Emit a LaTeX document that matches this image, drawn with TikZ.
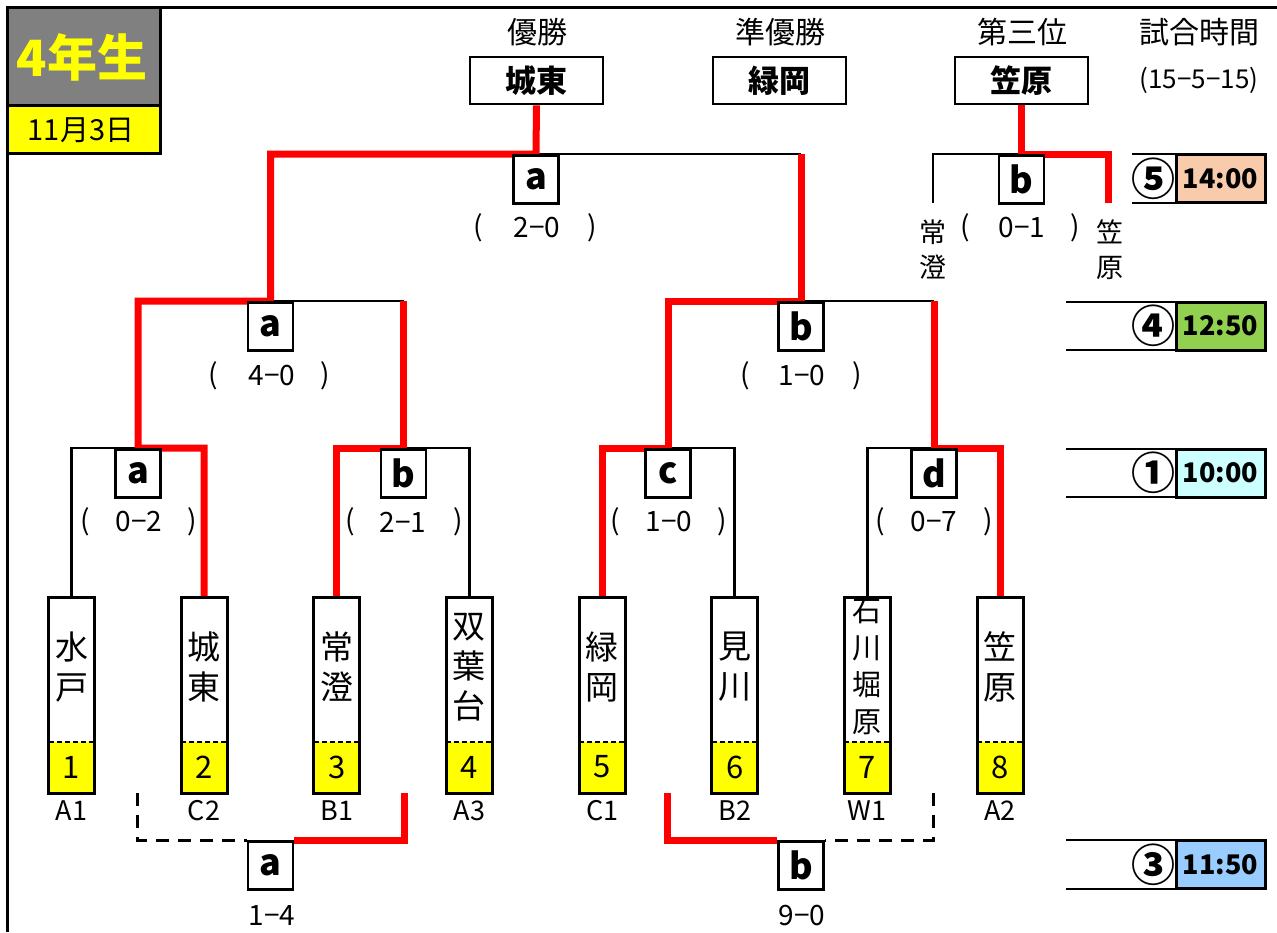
\documentclass[tikz,border=0pt]{standalone}
\usepackage{fontspec}
\setmainfont{Noto Sans CJK JP}
\newcommand\myfs[2]{\fontsize{#1}{#2}\selectfont}
\definecolor{hdrgray}{HTML}{808080}
\definecolor{tyellow}{HTML}{FFFF00}
\definecolor{winred}{HTML}{FF0000}
\definecolor{peach}{HTML}{F8CBAD}
\definecolor{tgreen}{HTML}{92D050}
\definecolor{tcyan}{HTML}{CCFFFF}
\definecolor{tblue}{HTML}{99CCFF}
\tikzset{
  blk/.style={line width=2.8pt, black},
  win/.style={line width=7pt, winred},
  dsh/.style={line width=3pt, black, dash pattern=on 13pt off 9pt},
  thinln/.style={line width=1.6pt, black},
  mbox/.style={draw, line width=2.6pt, minimum width=45pt, minimum height=48pt, inner sep=0pt, anchor=north, fill=white, font=\bfseries\myfs{36}{36}},
  tbox/.style={draw, line width=3pt, minimum width=46pt, minimum height=196pt, inner sep=0pt, anchor=north},
  rbox/.style={draw, line width=2.6pt, minimum width=133pt, minimum height=47pt, inner sep=0pt, fill=white, font=\bfseries\myfs{31}{31}},
  tmbox/.style={draw, line width=3pt, minimum width=89pt, minimum height=48pt, inner sep=0pt, font=\bfseries\myfs{27}{27}},
  tname/.style={align=center, inner sep=0pt, font=\myfs{33}{40}},
  numtxt/.style={inner sep=0pt, font=\myfs{31}{31}},
  lbltxt/.style={inner sep=0pt, font=\myfs{27}{27}},
  hdr/.style={inner sep=0pt, font=\myfs{30}{30}},
  sc/.style={inner sep=0pt, font=\myfs{28}{28}},
  circ/.style={inner sep=0pt, font=\bfseries\myfs{44}{44}},
}
\begin{document}
\begin{tikzpicture}[x=1pt, y=-1pt]
\useasboundingbox (0,0) rectangle (1277,932);
% frame
\draw[line width=3pt] (7,932) -- (7,7) -- (1277,7);
% title
\filldraw[fill=hdrgray, line width=3pt] (7,7) rectangle (160,105);
\filldraw[fill=tyellow, line width=3pt] (7,105) rectangle (160,153);
\node[inner sep=0pt, text=tyellow, font=\bfseries\myfs{50}{50}] (title) at (82,57) {4年生};
\node[inner sep=0pt, font=\myfs{29}{29}] (date) at (81,130) {11月3日};
% headers
\node[hdr] (h1) at (537,32) {優勝};
\node[hdr] (h2) at (780,32) {準優勝};
\node[hdr] (h3) at (1022,32) {第三位};
\node[hdr] (h4) at (1199,32) {試合時間};
\node[inner sep=0pt, font=\myfs{26}{26}] (h5) at (1199,80) {(15−5−15)};
% result boxes
\node[rbox] (champ) at (536.5,80.5) {城東};
\node[rbox] (runner) at (779.5,80.5) {緑岡};
\node[rbox] (third) at (1021.5,80.5) {笠原};
% team boxes
\foreach \i/\x/\lb in {1/71.5/A1,2/204.1/C2,3/336.8/B1,4/469.4/A3,5/602.1/C1,6/734.7/B2,7/867.3/W1,8/1000/A2}{
  \fill[tyellow] (\x-23,742) rectangle (\x+23,792);
  \draw[line width=2.2pt, dash pattern=on 5pt off 3pt] (\x-23,742) -- (\x+23,742);
  \node[tbox] (t\i) at (\x,596) {};
  \node[numtxt] (num\i) at (\x,767) {\i};
  \node[lbltxt] (lab\i) at (\x,811) {\lb};
}
\node[tname] (n1) at (71.5,667) {水\\戸};
\node[tname] (n2) at (204.1,667) {城\\東};
\node[tname] (n3) at (336.8,667) {常\\澄};
\node[tname] (n4) at (469.4,667) {双\\葉\\台};
\node[tname] (n5) at (602.1,667) {緑\\岡};
\node[tname] (n6) at (734.7,667) {見\\川};
\node[tname, font=\myfs{29}{37}] (n7) at (867.3,667) {石\\川\\堀\\原};
\node[tname] (n8) at (1000,667) {笠\\原};
% match boxes (positions)
\node[mbox] (m1) at (138,448) {a};
\node[mbox] (m2) at (403.5,448) {b};
\node[mbox] (m3) at (668,448) {c};
\node[mbox] (m4) at (934,448) {d};
\node[mbox] (s1) at (270.5,301) {a};
\node[mbox] (s2) at (801,301) {b};
\node[mbox] (f) at (536,154) {a};
\node[mbox] (p) at (1021.5,154) {b};
\node[mbox] (ca) at (270.5,840) {a};
\node[mbox] (cb) at (801,840) {b};
% free ends
\coordinate (p3l) at (933,203);
\coordinate (p3r) at (1108,203);
\coordinate (cl1) at (137,793);
\coordinate (cl2) at (404,793);
\coordinate (cr1) at (667,793);
\coordinate (cr2) at (933,793);
% black lines
\draw[blk] (t1.north) |- (m1.north);
\draw[blk] (m2.north) -| (t4.north);
\draw[blk] (m3.north) -| (t6.north);
\draw[blk] (t7.north) |- (m4.north);
\draw[blk] (s1.north) -- (s1.north -| m2.north);
\draw[blk] (s2.north) -- (s2.north -| m4.north);
\draw[blk] (f.north) -- (f.north -| s2.north);
\draw[blk] (p3l) |- (p.north);
\draw[dsh] (cl1) |- (ca.north west);
\draw[dsh] (cr2) |- (cb.north east);
% red lines
\draw[win] (t2.north) -- (t2.north |- m1.north) -- (m1.north) -- (m1.north |- s1.north) -- (s1.north) -- (s1.north |- f.north) -- (f.north) -- (champ.south);
\draw[win] (t3.north) -- (t3.north |- m2.north) -- (m2.north) -- (m2.north |- s1.north);
\draw[win] (t5.north) -- (t5.north |- m3.north) -- (m3.north) -- (m3.north |- s2.north) -- (s2.north) -- (s2.north |- f.north);
\draw[win] (t8.north) -- (t8.north |- m4.north) -- (m4.north) -- (m4.north |- s2.north);
\draw[win] (third.south) -- (p.north) -| (p3r);
\draw[win] (ca.north east) -| (cl2);
\draw[win] (cr1) |- (cb.north west);
% redraw match boxes on top
\foreach \nm/\lt in {m1/a,m2/b,m3/c,m4/d,s1/a,s2/b,f/a,p/b,ca/a,cb/b}{
  \node[mbox] at (\nm.north) {\lt};
}
% scores
\foreach \y/\xa/\xb/\xc/\s in {228/478/537/592/2−0, 376/213/272/325/4−0, 376/745/802/857/1−0, 522/85/139/192/0−2, 522/350/403/458/2−1, 522/615/669/722/1−0, 522/880/934/988/0−7, 228/965/1022/1075/0−1}{
  \node[sc] at (\xa,\y) {(};
  \node[sc] at (\xb,\y) {\s};
  \node[sc] at (\xc,\y) {)};
}
\node[sc] (cs1) at (272,916) {1−4};
\node[sc] (cs2) at (802,916) {9−0};
% third place labels
\node[tname, font=\myfs{27}{35}] (l3a) at (933,250) {常\\澄};
\node[tname, font=\myfs{27}{35}] (l3b) at (1110,250) {笠\\原};
% time column
\foreach \yt/\yb/\xs/\c/\tm/\col in {154/203/1132/⑤/14:00/peach, 302/350/1066/④/12:50/tgreen, 449/497/1066/①/10:00/tcyan, 840/889/1066/③/11:50/tblue}{
  \draw[thinln] (\xs,\yt) -- (1266,\yt);
  \draw[thinln] (\xs,\yb) -- (1266,\yb);
  \node[tmbox, fill=\col] at (1220.5,{(\yt+\yb)/2}) {\tm};
  \node[circ] at (1153,{(\yt+\yb)/2}) {\c};
}
\end{tikzpicture}
\end{document}
